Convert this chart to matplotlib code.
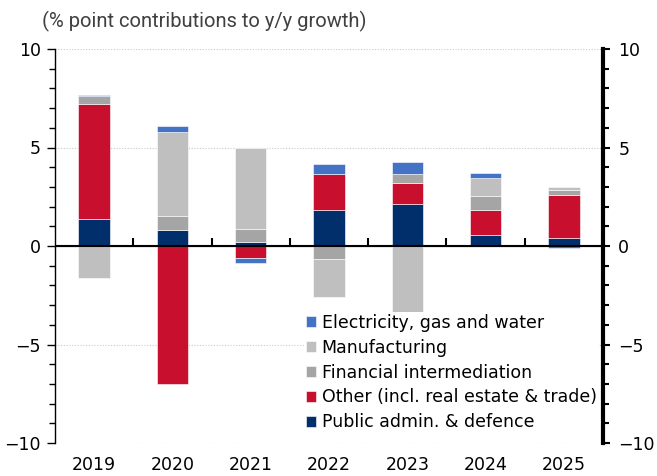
import matplotlib
matplotlib.use("Agg")
import matplotlib.pyplot as plt
import numpy as np

years = ["2019", "2020", "2021", "2022", "2023", "2024", "2025"]

# % point contributions, stacked from the bottom up
public_admin = [1.36, 0.83, 0.22, 1.81, 2.15, 0.55, 0.40]
other = [5.85, -7.02, -0.59, 1.86, 1.06, 1.30, 2.20]
financial = [0.38, 0.71, 0.64, -0.66, 0.46, 0.67, 0.26]
manufacturing = [-1.64, 4.26, 4.10, -1.91, -3.33, 0.94, 0.14]
electricity = [0.08, 0.28, -0.25, 0.48, 0.61, 0.25, -0.12]

series = [
    ("Public admin. & defence", public_admin, "#002F6C"),
    ("Other (incl. real estate & trade)", other, "#C8102E"),
    ("Financial intermediation", financial, "#A5A5A5"),
    ("Manufacturing", manufacturing, "#BFBFBF"),
    ("Electricity, gas and water", electricity, "#4472C4"),
]

plt.rcParams["font.family"] = ["DejaVu Sans"]

fig = plt.figure(figsize=(6.57, 4.76), dpi=100)
ax = fig.add_axes([55 / 657, 33 / 476, 548 / 657, 394 / 476])

x = np.arange(len(years))
pos_bottom = np.zeros(len(years))
neg_bottom = np.zeros(len(years))
handles = {}
for name, vals, color in series:
    v = np.asarray(vals, dtype=float)
    bottom = np.where(v >= 0, pos_bottom, neg_bottom)
    bars = ax.bar(x, v, width=0.4, bottom=bottom, color=color,
                  edgecolor="white", linewidth=0.4, zorder=3, label=name)
    handles[name] = bars
    pos_bottom += np.where(v >= 0, v, 0)
    neg_bottom += np.where(v < 0, v, 0)

ax.set_xlim(-0.5, len(years) - 0.5)
ax.set_ylim(-10, 10)
ax.set_yticks([-10, -5, 0, 5, 10])
ax.set_yticks(np.arange(-10, 11, 1), minor=True)
for yv in [-10, -5, 5, 10]:
    ax.axhline(yv, linestyle=(0, (1, 1.5)), color="#c8c8c8", linewidth=0.8, zorder=0)
ax.axhline(0, color="black", linewidth=1.5, zorder=4)
ax.tick_params(axis="y", which="major", direction="out", length=6, width=1,
               labelsize=12.5, pad=4)
ax.tick_params(axis="y", which="minor", direction="out", length=4, width=1)

for side in ["top", "right", "bottom"]:
    ax.spines[side].set_visible(False)
ax.spines["left"].set_linewidth(1)

# year labels along the bottom
ax.set_xticks(x)
ax.set_xticklabels(years, fontsize=12.5)
ax.tick_params(axis="x", which="major", length=0, pad=9)

# category dividers on the zero line (zero sits halfway up the axes)
zero = ax.secondary_xaxis(0.5)
zero.set_xticks(np.arange(0.5, len(years) - 0.5, 1))
zero.set_xticklabels([])
zero.tick_params(axis="x", direction="out", length=6, width=1.5, color="black")
zero.spines["bottom"].set_linewidth(1.5)

# right-hand axis
ax2 = ax.secondary_yaxis("right")
ax2.set_yticks([-10, -5, 0, 5, 10])
ax2.set_yticks(np.arange(-10, 11, 1), minor=True)
ax2.tick_params(axis="y", which="major", direction="out", length=5, width=1.5,
                labelsize=12.5, pad=6)
ax2.tick_params(axis="y", which="minor", direction="out", length=4, width=1.5)
ax2.spines["right"].set_linewidth(3)

order = ["Electricity, gas and water", "Manufacturing", "Financial intermediation",
         "Other (incl. real estate & trade)", "Public admin. & defence"]
leg = ax.legend([handles[n] for n in order], order, loc="lower left",
                bbox_to_anchor=(0.455, 0.025), frameon=True, fontsize=12.5,
                handlelength=0.6, handleheight=0.6, handletextpad=0.3,
                labelspacing=0.4, borderpad=0.1, borderaxespad=0)
leg.get_frame().set_facecolor("white")
leg.get_frame().set_edgecolor("none")
leg.get_frame().set_alpha(1)
leg.set_zorder(5)

fig.text(42 / 657, 1 - 21 / 476, "(% point contributions to y/y growth)",
         fontsize=14.5, color="#404040", family=["Roboto", "DejaVu Sans"],
         va="center", ha="left")

fig.savefig("out.png", dpi=100)
